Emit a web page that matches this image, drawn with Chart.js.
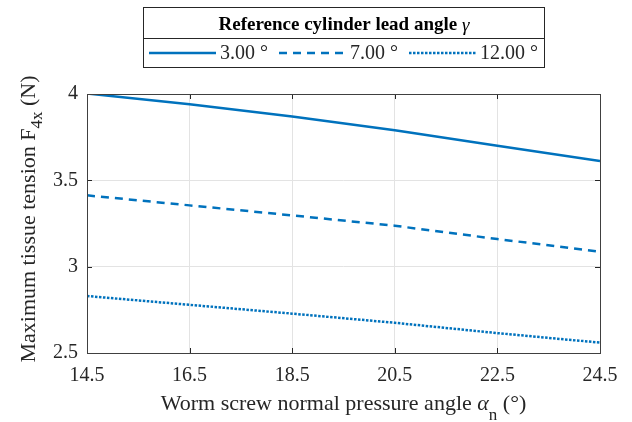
<!DOCTYPE html>
<html>
<head>
<meta charset="utf-8">
<script src="https://cdn.jsdelivr.net/npm/chart.js@4"></script>
<style>
  html, body { margin: 0; padding: 0; background: #fff; }
  #wrap { width: 632px; height: 422px; }
</style>
</head>
<body>
<div id="wrap"><canvas id="grafico" width="632" height="422"></canvas></div>
<script>
// Dados
const angulos = [14.5, 16.5, 18.5, 20.5, 22.5, 24.5];
const tensao3 = [4.003, 3.94, 3.87, 3.79, 3.70, 3.612];
const tensao7 = [3.413, 3.355, 3.297, 3.237, 3.16, 3.087];
const tensao12 = [2.83, 2.779, 2.728, 2.675, 2.615, 2.56];
const rotulos = ['3.00 °', '7.00 °', '12.00 °'];
const ticksX = [14.5, 16.5, 18.5, 20.5, 22.5, 24.5];
const ticksY = [2.5, 3, 3.5, 4];

const azul = '#0072BD';
const fonte = '"Liberation Serif", "DejaVu Serif", serif';

function pontos(ys) {
  return angulos.map((x, i) => ({ x, y: ys[i] }));
}

// escreve texto em partes (para subscritos) centrado em cx
function textoPartes(ctx, partes, cx, y) {
  let larg = 0;
  partes.forEach(p => { ctx.font = p.f; p.w = ctx.measureText(p.t).width; larg += p.w; });
  let x0 = cx - larg / 2;
  ctx.textAlign = 'left';
  partes.forEach(p => {
    ctx.font = p.f;
    ctx.fillText(p.t, x0, y + p.dy);
    x0 += p.w;
  });
}

// Caixa, marcas internas, títulos dos eixos e legenda
const extras = {
  id: 'extras',
  afterDraw(chart) {
    const ctx = chart.ctx;
    const a = chart.chartArea;
    const sx = chart.scales.x, sy = chart.scales.y;
    ctx.save();
    // ticks para dentro
    ctx.strokeStyle = '#262626';
    ctx.lineWidth = 1;
    ctx.beginPath();
    ticksX.forEach(v => {
      const px = Math.round(sx.getPixelForValue(v)) + 0.5;
      ctx.moveTo(px, a.bottom); ctx.lineTo(px, a.bottom - 5);
      ctx.moveTo(px, a.top); ctx.lineTo(px, a.top + 5);
    });
    ticksY.forEach(v => {
      const py = Math.round(sy.getPixelForValue(v)) + 0.5;
      ctx.moveTo(a.left, py); ctx.lineTo(a.left + 5, py);
      ctx.moveTo(a.right, py); ctx.lineTo(a.right - 5, py);
    });
    ctx.stroke();
    // caixa
    ctx.strokeStyle = '#404040';
    ctx.strokeRect(Math.round(a.left) + 0.5, Math.round(a.top) + 0.5, Math.round(a.right - a.left), Math.round(a.bottom - a.top));

    // título do eixo x
    ctx.fillStyle = '#262626';
    ctx.textBaseline = 'alphabetic';
    textoPartes(ctx, [
      { t: 'Worm screw normal pressure angle ', f: '22px ' + fonte, dy: 0 },
      { t: 'α', f: 'italic 22px ' + fonte, dy: 0 },
      { t: 'n', f: '17px ' + fonte, dy: 10 },
      { t: ' (°)', f: '22px ' + fonte, dy: 0 }
    ], (a.left + a.right) / 2, 410);

    // título do eixo y (rotacionado)
    ctx.save();
    ctx.translate(35, 219);
    ctx.rotate(-Math.PI / 2);
    textoPartes(ctx, [
      { t: 'Maximum tissue tension F', f: '22px ' + fonte, dy: 0 },
      { t: '4x', f: '17px ' + fonte, dy: 7 },
      { t: ' (N)', f: '22px ' + fonte, dy: 0 }
    ], 0, 0);
    ctx.restore();

    // legenda
    const bx = 143.5, by = 7.5, bw = 401, bh = 60, div = 38.5;
    ctx.fillStyle = '#fff';
    ctx.fillRect(bx, by, bw, bh);
    ctx.strokeStyle = '#262626';
    ctx.lineWidth = 1;
    ctx.strokeRect(bx, by, bw, bh);
    ctx.beginPath();
    ctx.moveTo(bx, div); ctx.lineTo(bx + bw, div);
    ctx.stroke();

    ctx.fillStyle = '#000';
    ctx.textBaseline = 'alphabetic';
    textoPartes(ctx, [
      { t: 'Reference cylinder lead angle ', f: 'bold 19px ' + fonte, dy: 0 },
      { t: 'γ', f: 'italic 19px ' + fonte, dy: 1 }
    ], bx + bw / 2, 30);

    const linhas = [149, 279, 409];
    ctx.textBaseline = 'middle';
    chart.data.datasets.forEach((ds, i) => {
      const lx = linhas[i];
      const ly = 53;
      ctx.strokeStyle = ds.borderColor;
      ctx.lineWidth = ds.borderWidth;
      ctx.setLineDash(ds.borderDash || []);
      ctx.beginPath();
      ctx.moveTo(lx, ly); ctx.lineTo(lx + 67, ly);
      ctx.stroke();
      ctx.setLineDash([]);
      ctx.fillStyle = '#262626';
      ctx.font = '20px ' + fonte;
      ctx.textAlign = 'left';
      ctx.fillText(ds.label, lx + 71, ly + 1);
    });
    ctx.restore();
  }
};

new Chart(document.getElementById('grafico').getContext('2d'), {
  type: 'line',
  data: {
    datasets: [
      { label: rotulos[0], data: pontos(tensao3), borderColor: azul, borderWidth: 2.5, borderDash: [], pointRadius: 0, fill: false },
      { label: rotulos[1], data: pontos(tensao7), borderColor: azul, borderWidth: 2.5, borderDash: [8, 6], pointRadius: 0, fill: false },
      { label: rotulos[2], data: pontos(tensao12), borderColor: azul, borderWidth: 2.5, borderDash: [2.5, 1.5], pointRadius: 0, fill: false }
    ]
  },
  options: {
    responsive: false,
    animation: false,
    layout: { padding: { top: 94, right: 32, left: 0, bottom: 0 } },
    plugins: { legend: { display: false }, tooltip: { enabled: false } },
    scales: {
      x: {
        type: 'linear',
        min: 14.5, max: 24.5,
        afterBuildTicks: s => { s.ticks = ticksX.map(v => ({ value: v })); },
        afterFit: s => { s.height = 69; },
        grid: { color: '#e3e3e3', drawTicks: false },
        border: { display: false },
        ticks: { color: '#262626', padding: 11, maxRotation: 0, font: { family: fonte, size: 20 }, callback: v => v.toFixed(1) }
      },
      y: {
        min: 2.5, max: 4,
        afterBuildTicks: s => { s.ticks = ticksY.map(v => ({ value: v })); },
        afterFit: s => { s.width = 87; },
        grid: { color: '#e3e3e3', drawTicks: false },
        border: { display: false },
        ticks: { color: '#262626', padding: 9, font: { family: fonte, size: 20 }, callback: v => String(v) }
      }
    }
  },
  plugins: [extras]
});
</script>
</body>
</html>
